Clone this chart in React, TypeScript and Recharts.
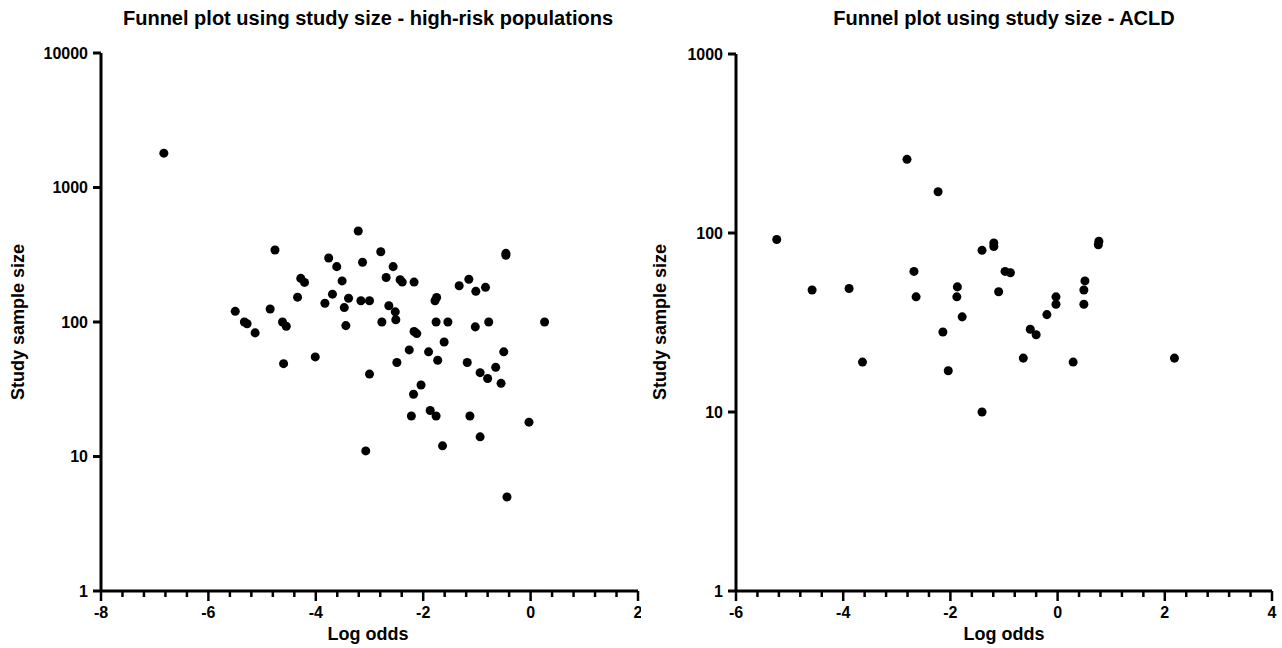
import React from "react";
import { ScatterChart, Scatter, XAxis, YAxis, ZAxis } from "recharts";

// high-risk populations: log odds vs study size
const hrLogOdds = [
  -6.83, -4.76, -3.76, -3.61, -4.28, -4.21, -3.51, -3.69, -4.34, -3.83,
  -3.47, -5.5, -4.85, -5.33, -5.28, -5.13, -4.62, -4.55, -4.01, -4.6,
  -3.21, -2.79, -3.13, -2.56, -2.69, -2.43, -2.39, -2.17, -0.46, -0.46,
  -3.39, -3.16, -3.0, -2.64, -2.52, -2.51, -2.77, -3.44, -1.78, -1.75,
  -1.33, -1.15, -1.02, -0.84, -1.76, -1.54, -1.03, -0.78, 0.26, -2.17,
  -2.12, -1.61, -2.26, -1.9, -1.73, -2.49, -3.0, -1.18, -0.5, -0.65,
  -0.94, -0.8, -0.55, -2.04, -2.18, -1.87, -1.76, -2.22, -1.13, -0.03,
  -0.94, -1.64, -3.07, -0.44,
];
const hrSize = [
  1800, 343, 299, 258, 211, 197, 202, 161, 153, 138,
  128, 120, 125, 100, 97, 83, 100, 93, 55, 49,
  475, 333, 278, 258, 214, 206, 198, 198, 324, 313,
  150, 144, 144, 132, 119, 104, 100, 94, 144, 152,
  186, 208, 169, 181, 100, 100, 92, 100, 100, 85,
  82, 71, 62, 60, 52, 50, 41, 50, 60, 46,
  42, 38, 35, 34, 29, 22, 20, 20, 20, 18,
  14, 12, 11, 5,
];

// ACLD
const acldLogOdds = [
  -5.24, -4.58, -3.89, -3.64, -2.81, -2.23, -2.68, -2.64, -2.14, -2.04,
  -1.87, -1.88, -1.78, -1.41, -1.19, -1.19, -1.41, -0.98, -0.88, -1.1,
  -0.51, -0.4, -0.64, -0.2, -0.03, -0.03, 0.51, 0.49, 0.49, 0.77,
  0.76, 0.29, 2.18,
];
const acldSize = [
  92, 48, 49, 19, 258, 170, 61, 44, 28, 17,
  50, 44, 34, 80, 88, 84, 10, 61, 60, 47,
  29, 27, 20, 35, 44, 40, 54, 48, 40, 90,
  86, 19, 20,
];

const hrXTicks = [-8, -6, -4, -2, 0, 2];
const acldXTicks = [-6, -4, -2, 0, 2, 4];
const hrYTicks = [1, 10, 100, 1000, 10000];
const acldYTicks = [1, 10, 100, 1000];

const FONT = "'Liberation Sans', Arial, Helvetica, sans-serif";

// majors + minor ticks every 0.4
const withMinors = (majors: number[]) => {
  const out: number[] = [];
  for (let i = 0; i < majors.length; i++) {
    out.push(majors[i]);
    if (i < majors.length - 1) {
      for (let k = 1; k < 5; k++) out.push(Math.round((majors[i] + k * 0.4) * 10) / 10);
    }
  }
  return out;
};

const XTick = (props: any) => {
  const { x, y, payload, majors } = props;
  const v = payload.value;
  const major = majors.includes(v);
  return (
    <g>
      <line x1={x} x2={x} y1={y} y2={y + (major ? 10 : 6)} stroke="#000" strokeWidth={2.5} />
      {major && (
        <text x={x} y={y + 27} textAnchor="middle" fontSize={16} fontWeight="bold" fill="#000" fontFamily={FONT}>
          {v}
        </text>
      )}
    </g>
  );
};

function Funnel({ xs, ys, xMajors, yTicks, margin }: any) {
  const data = xs.map((x: number, i: number) => ({ x, y: ys[i] }));
  const domain = [xMajors[0], xMajors[xMajors.length - 1]];
  return (
    <ScatterChart width={641} height={648} margin={margin}>
      <XAxis
        type="number"
        dataKey="x"
        domain={domain}
        ticks={withMinors(xMajors)}
        interval={0}
        tickSize={0}
        tickMargin={0}
        height={57}
        axisLine={{ stroke: "#000", strokeWidth: 3 }}
        tickLine={false}
        tick={<XTick majors={xMajors} />}
      />
      <YAxis
        type="number"
        dataKey="y"
        scale="log"
        domain={[yTicks[0], yTicks[yTicks.length - 1]]}
        ticks={yTicks}
        interval={0}
        allowDataOverflow
        width={margin.yw}
        tickSize={8}
        tickMargin={5}
        axisLine={{ stroke: "#000", strokeWidth: 3 }}
        tickLine={{ stroke: "#000", strokeWidth: 3 }}
        tick={{ fontSize: 16, fontWeight: "bold", fill: "#000", fontFamily: FONT }}
      />
      <ZAxis range={[68, 68]} />
      <Scatter data={data} fill="#000" isAnimationActive={false} />
    </ScatterChart>
  );
}

export default function App() {
  return (
    <div style={{ position: "absolute", left: 0, top: 0, width: 1282, height: 648, background: "#fff", fontFamily: FONT }}>
      <div style={{ position: "absolute", left: 0, top: 0 }}>
        <Funnel
          xs={hrLogOdds}
          ys={hrSize}
          xMajors={hrXTicks}
          yTicks={hrYTicks}
          margin={{ top: 53, right: 3, bottom: 0, left: 0, yw: 101 }}
        />
      </div>
      <div style={{ position: "absolute", left: 641, top: 0 }}>
        <Funnel
          xs={acldLogOdds}
          ys={acldSize}
          xMajors={acldXTicks}
          yTicks={acldYTicks}
          margin={{ top: 54, right: 10, bottom: 0, left: 0, yw: 95 }}
        />
      </div>
      <svg width={1282} height={648} style={{ position: "absolute", left: 0, top: 0, pointerEvents: "none" }}>
        <g fontFamily={FONT} fontWeight="bold" fill="#000" textAnchor="middle">
          <text x={368} y={25} fontSize={20}>Funnel plot using study size - high-risk populations</text>
          <text x={1004} y={25} fontSize={20}>Funnel plot using study size - ACLD</text>
          <text x={368} y={640} fontSize={18}>Log odds</text>
          <text x={1004} y={640} fontSize={18}>Log odds</text>
          <text transform="translate(24,322) rotate(-90)" fontSize={18}>Study sample size</text>
          <text transform="translate(666,322) rotate(-90)" fontSize={18}>Study sample size</text>
        </g>
      </svg>
    </div>
  );
}
